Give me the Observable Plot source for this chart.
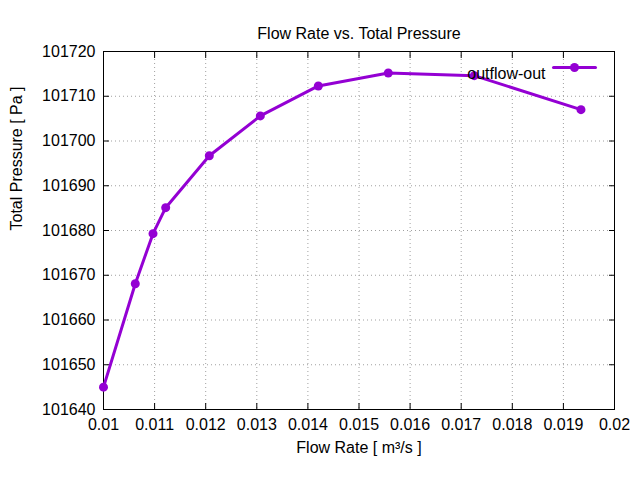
<!DOCTYPE html>
<html>
<head>
<meta charset="utf-8">
<script src="https://cdn.jsdelivr.net/npm/d3@7"></script>
<script src="https://cdn.jsdelivr.net/npm/@observablehq/plot@0.6"></script>
<style>
  html, body { margin: 0; padding: 0; background: #fff; }
  #chart svg { display: block; }
</style>
</head>
<body>
<div id="chart"></div>
<script>
const flowRate = [0.01, 0.010622, 0.010969, 0.011217, 0.012071, 0.013069, 0.014204, 0.015573, 0.017256, 0.019344];
const totalPressure = [101645.0, 101668.1, 101679.3, 101685.1, 101696.7, 101705.6, 101712.3, 101715.2, 101714.6, 101707.0];
const xTicks = [0.01, 0.011, 0.012, 0.013, 0.014, 0.015, 0.016, 0.017, 0.018, 0.019, 0.02];
const xTickLabels = ["0.01", "0.011", "0.012", "0.013", "0.014", "0.015", "0.016", "0.017", "0.018", "0.019", "0.02"];
const yTicks = [101640, 101650, 101660, 101670, 101680, 101690, 101700, 101710, 101720];
const yTickLabels = ["101640", "101650", "101660", "101670", "101680", "101690", "101700", "101710", "101720"];
const seriesName = "outflow-out";
const title = "Flow Rate vs. Total Pressure";
const xLabel = "Flow Rate [ m³/s ]";
const yLabel = "Total Pressure [ Pa ]";

const data = flowRate.map((x, i) => ({x, y: totalPressure[i]}));
const color = "#9400d3";
const font = "'Liberation Sans', Arial, sans-serif";
const fs = 16;

const plot = Plot.plot({
  width: 640,
  height: 480,
  marginLeft: 103,
  marginRight: 26,
  marginTop: 51,
  marginBottom: 71,
  style: {fontFamily: font, fontSize: fs + "px", color: "#000", background: "#fff"},
  x: {domain: [0.01, 0.02]},
  y: {domain: [101640, 101720]},
  marks: [
    Plot.gridX(xTicks, {stroke: "#a0a0a0", strokeOpacity: 1, strokeDasharray: "1,3"}),
    Plot.gridY(yTicks, {stroke: "#a0a0a0", strokeOpacity: 1, strokeDasharray: "1,3"}),
    Plot.axisX({anchor: "bottom", ticks: xTicks, tickSize: 0, tickPadding: 9, tickFormat: (d, i) => xTickLabels[i], label: null, fontSize: fs}),
    Plot.axisY({anchor: "left", ticks: yTicks, tickSize: 0, tickPadding: 8, tickFormat: (d, i) => yTickLabels[i], label: null, fontSize: fs}),
    Plot.axisX({anchor: "bottom", ticks: xTicks, tickSize: -6, text: null, label: null}),
    Plot.axisX({anchor: "top", ticks: xTicks, tickSize: -6, text: null, label: null}),
    Plot.axisY({anchor: "left", ticks: yTicks, tickSize: -6, text: null, label: null}),
    Plot.axisY({anchor: "right", ticks: yTicks, tickSize: -6, text: null, label: null}),
    Plot.frame({stroke: "#000", strokeWidth: 1}),
    Plot.line(data, {x: "x", y: "y", stroke: color, strokeWidth: 3}),
    Plot.dot(data, {x: "x", y: "y", r: 4.5, fill: color, stroke: "none"}),
    // legend
    Plot.text([seriesName], {text: d => d, frameAnchor: "top-right", dx: -69, dy: 16, textAnchor: "end", fontSize: fs, fill: "#000"}),
    Plot.vector([0], {frameAnchor: "top-right", dx: -61, dy: 16, rotate: 90, length: 42, anchor: "start", stroke: color, strokeWidth: 3,
      shape: {draw(ctx, l) { ctx.moveTo(0, 0); ctx.lineTo(0, -l); }}}),
    Plot.dot([0], {frameAnchor: "top-right", dx: -40, dy: 16, r: 4.5, fill: color, stroke: "none"}),
    // title and axis labels
    Plot.text([title], {text: d => d, frameAnchor: "top", dy: -24, fontSize: fs, fill: "#000"}),
    Plot.text([xLabel], {text: d => d, frameAnchor: "bottom", dy: 43, fontSize: fs, fill: "#000"}),
    Plot.text([yLabel], {text: d => d, frameAnchor: "left", dx: -87, rotate: -90, fontSize: fs, fill: "#000"})
  ]
});
document.getElementById("chart").appendChild(plot);
</script>
</body>
</html>
